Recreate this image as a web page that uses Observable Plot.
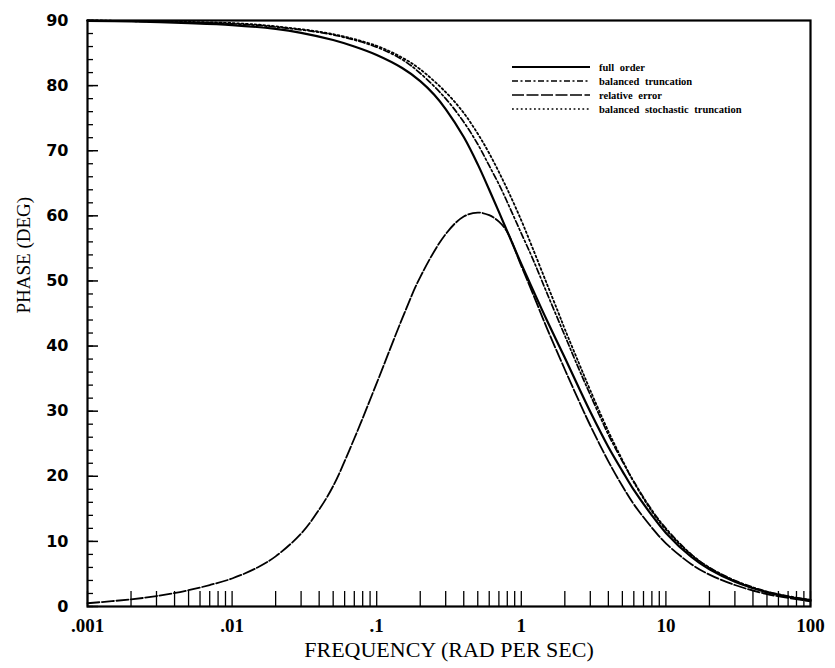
<!DOCTYPE html>
<html>
<head>
<meta charset="utf-8">
<script src="https://cdn.jsdelivr.net/npm/d3@7"></script>
<script src="https://cdn.jsdelivr.net/npm/@observablehq/plot@0.6"></script>
<style>
  html, body { margin: 0; padding: 0; background: #fff; }
  #chart { position: relative; width: 835px; height: 668px; }
  #legend { position: absolute; left: 0; top: 0; }
</style>
</head>
<body>
<div id="chart"></div>
<script>
// ---- data ----
const fullFreq  = [0.001, 0.002, 0.005, 0.01, 0.02, 0.03, 0.05, 0.07, 0.1, 0.15, 0.2, 0.25, 0.3, 0.4, 0.5, 0.6, 0.7, 0.8, 1.0, 1.2, 1.5, 2.0, 2.5, 3.0, 4.0, 5.0, 6.0, 8.0, 10, 15, 20, 30, 50, 70, 100];
const fullPhase = [89.95, 89.85, 89.6, 89.3, 88.7, 88.1, 87.0, 86.0, 84.7, 82.7, 80.7, 78.6, 76.4, 72.1, 67.9, 64.0, 60.6, 57.6, 52.6, 48.7, 44.0, 38.2, 33.6, 29.9, 24.5, 20.8, 17.9, 14.0, 11.3, 7.6, 5.7, 3.8, 2.2, 1.5, 1.0];

const btFreq  = [0.001, 0.01, 0.02, 0.05, 0.1, 0.15, 0.2, 0.3, 0.4, 0.5, 0.6, 0.72, 0.85, 1.0, 1.2, 1.5, 2.0, 2.5, 3.0, 4.0, 5.0, 6.0, 8.0, 10, 15, 20, 30, 50, 100];
const btPhase = [90.0, 89.5, 89.0, 87.8, 85.9, 84.0, 81.9, 78.0, 74.4, 71.0, 67.7, 64.3, 60.8, 57.3, 53.4, 48.2, 41.6, 36.5, 32.5, 26.4, 22.3, 19.2, 14.8, 12.0, 8.0, 6.0, 4.0, 2.3, 1.0];

const reFreq  = [0.001, 0.002, 0.003, 0.005, 0.007, 0.01, 0.015, 0.02, 0.03, 0.04, 0.05, 0.07, 0.1, 0.15, 0.2, 0.3, 0.4, 0.5, 0.6, 0.7, 0.8, 1.0, 1.2, 1.5, 2.0, 2.5, 3.0, 4.0, 5.0, 6.0, 8.0, 10, 15, 20, 30, 50, 100];
const rePhase = [0.5, 1.1, 1.6, 2.5, 3.3, 4.3, 6.0, 7.7, 11.2, 14.9, 18.5, 25.8, 34.3, 44.2, 50.6, 57.2, 59.9, 60.5, 60.1, 59.1, 57.5, 52.3, 48.1, 42.8, 36.4, 31.6, 27.8, 22.3, 18.5, 15.7, 12.1, 9.7, 6.5, 4.9, 3.3, 1.9, 0.8];

const bstFreq  = [0.001, 0.01, 0.02, 0.05, 0.1, 0.15, 0.2, 0.3, 0.4, 0.5, 0.6, 0.78, 1.0, 1.2, 1.5, 1.8, 2.0, 2.5, 3.0, 4.0, 5.0, 6.0, 8.0, 10, 15, 20, 30, 50, 100];
const bstPhase = [90.0, 89.6, 89.1, 87.9, 86.1, 84.3, 82.5, 79.0, 75.8, 72.6, 69.6, 64.6, 59.3, 55.0, 49.6, 45.2, 42.6, 37.4, 33.2, 26.9, 22.5, 19.1, 14.6, 11.8, 7.9, 5.9, 3.9, 2.2, 0.9];

const seriesNames = ["full order", "balanced truncation", "relative error", "balanced stochastic truncation"];

const xTickValues = [0.001, 0.01, 0.1, 1, 10, 100];
const xTickLabels = [".001", ".01", ".1", "1", "10", "100"];
const yTickValues = [0, 10, 20, 30, 40, 50, 60, 70, 80, 90];
const yMinorValues = d3.range(0, 91, 2);
const xMinorValues = [0.001, 0.01, 0.1, 1, 10].flatMap(d => d3.range(1, 10).map(k => k * d)).concat([100]);

// ---- build tables ----
const toRows = (fs, ps, name) => fs.map((f, i) => ({f, p: ps[i], name}));
const full = toRows(fullFreq, fullPhase, seriesNames[0]);
const bt   = toRows(btFreq, btPhase, seriesNames[1]);
const re   = toRows(reFreq, rePhase, seriesNames[2]);
const bst  = toRows(bstFreq, bstPhase, seriesNames[3]);

const styles = {
  "full order": {strokeWidth: 2.2, strokeDasharray: null},
  "balanced truncation": {strokeWidth: 1.7, strokeDasharray: "6,2.5,2,2.5"},
  "relative error": {strokeWidth: 1.8, strokeDasharray: "12,2.5"},
  "balanced stochastic truncation": {strokeWidth: 1.8, strokeDasharray: "1.8,2.6"}
};

const W = 835, H = 668;
const mL = 87, mR = 25, mT = 20, mB = 62;
const plotW = W - mL - mR, plotH = H - mT - mB;

const lineMark = (data, name) => Plot.line(data, {
  x: "f", y: "p", curve: "catmull-rom", stroke: "#000",
  strokeWidth: styles[name].strokeWidth,
  strokeDasharray: styles[name].strokeDasharray
});

const chart = Plot.plot({
  width: W, height: H,
  marginLeft: mL, marginRight: mR, marginTop: mT, marginBottom: mB,
  style: {background: "#fff", color: "#000"},
  x: {type: "log", domain: [0.001, 100]},
  y: {domain: [0, 90]},
  marks: [
    Plot.frame({stroke: "#000", strokeWidth: 2.2}),
    // y ticks (inward)
    Plot.tickY(yMinorValues, {y: d => d, stroke: "#000", strokeWidth: 1.3, insetRight: plotW - 6}),
    Plot.tickY(yTickValues, {y: d => d, stroke: "#000", strokeWidth: 1.5, insetRight: plotW - 11}),
    // x ticks (inward)
    Plot.tickX(xMinorValues, {x: d => d, stroke: "#000", strokeWidth: 1.3, insetTop: plotH - 15}),
    Plot.axisY({ticks: yTickValues, tickSize: 0, tickPadding: 19, label: null,
      fontFamily: "DejaVu Sans", fontWeight: "bold", fontSize: 16}),
    Plot.axisX({ticks: xTickValues, tickSize: 0, tickPadding: 12, label: null,
      tickFormat: (d) => xTickLabels[xTickValues.indexOf(d)],
      fontFamily: "Liberation Serif", fontWeight: "bold", fontSize: 19}),
    Plot.text(["FREQUENCY (RAD PER SEC)"], {frameAnchor: "bottom", dy: 50,
      fontFamily: "Liberation Serif", fontSize: 22, letterSpacing: 3, fill: "#000"}),
    Plot.text(["PHASE (DEG)"], {frameAnchor: "left", dx: -64, rotate: -90,
      fontFamily: "Liberation Serif", fontSize: 19, letterSpacing: 1.5, fill: "#000"}),
    lineMark(full, seriesNames[0]),
    lineMark(bt, seriesNames[1]),
    lineMark(re, seriesNames[2]),
    lineMark(bst, seriesNames[3])
  ]
});

const container = document.getElementById("chart");
container.appendChild(chart);

// ---- legend overlay ----
const legendRowsY = [67, 81, 95, 109];
const svg = d3.select(container).append("svg")
  .attr("id", "legend").attr("width", W).attr("height", H)
  .style("pointer-events", "none");
seriesNames.forEach((name, i) => {
  const y = legendRowsY[i];
  svg.append("line")
    .attr("x1", 512).attr("x2", 590).attr("y1", y).attr("y2", y)
    .attr("stroke", "#000")
    .attr("stroke-width", styles[name].strokeWidth * 0.9)
    .attr("stroke-dasharray", styles[name].strokeDasharray);
  svg.append("text")
    .attr("x", 599).attr("y", y).attr("dy", "0.35em")
    .attr("font-family", "Liberation Serif").attr("font-weight", "bold")
    .attr("font-size", 10.5).attr("word-spacing", 3).attr("fill", "#000")
    .text(name);
});
</script>
</body>
</html>
